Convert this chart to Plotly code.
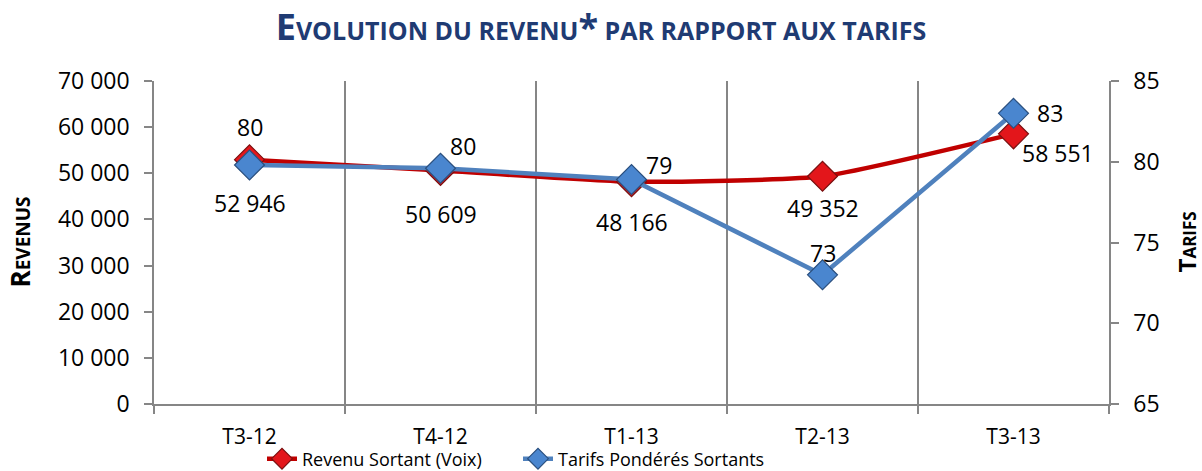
import plotly.graph_objects as go

categories = ["T3-12", "T4-12", "T1-13", "T2-13", "T3-13"]
revenu = [52946, 50609, 48166, 49352, 58551]
tarifs = [79.8, 79.6, 78.9, 73.0, 83.0]
revenu_name = "Revenu Sortant (Voix)"
tarifs_name = "Tarifs Pondérés Sortants"

# label offsets (style only, pixels)
rev_shift = [(0, -43), (0, -44), (0, -40), (0, -32), (44, -19)]
tar_shift = [(0, 38), (22, 22), (27, 15), (0, 22), (36, 0)]

RED = "#C00000"
BLUE = "#4F81BD"
GRID = "#868686"
FONT = "Open Sans"

fig = go.Figure()
fig.add_trace(go.Scatter(
    x=categories, y=revenu, name=revenu_name, mode="lines+markers",
    line=dict(color=RED, width=4.5, shape="spline", smoothing=0.5),
    marker=dict(symbol="diamond", size=23, color="#E3161B", line=dict(color="#7A1010", width=1.2)),
    yaxis="y", legend="legend",
))
fig.add_trace(go.Scatter(
    x=categories, y=tarifs, name=tarifs_name, mode="lines+markers",
    line=dict(color=BLUE, width=4.5),
    marker=dict(symbol="diamond", size=23, color="#4A86CF", line=dict(color="#2A4F7E", width=1.2)),
    yaxis="y2", legend="legend2",
))

annotations = []
for c, v, (dx, dy) in zip(categories, revenu, rev_shift):
    annotations.append(dict(x=c, y=v, yref="y", xref="x", text=f"{v:,}".replace(",", " "),
                            showarrow=False, xshift=dx, yshift=dy,
                            font=dict(family=FONT, size=23, color="#000")))
for c, v, (dx, dy) in zip(categories, tarifs, tar_shift):
    annotations.append(dict(x=c, y=v, yref="y2", xref="x", text=f"{v:.0f}",
                            showarrow=False, xshift=dx, yshift=dy,
                            font=dict(family=FONT, size=23, color="#000")))

annotations.append(dict(xref="paper", yref="paper", x=0, y=0.5, xshift=-135, textangle=-90,
                        xanchor="center", yanchor="middle",
                        text="<b><span style='font-size:26px'>R</span>EVENUS</b>", showarrow=False,
                        font=dict(family=FONT, size=19, color="#000")))
annotations.append(dict(xref="paper", yref="paper", x=1, y=0.5, xshift=77, textangle=-90,
                        xanchor="center", yanchor="middle",
                        text="<b><span style='font-size:24px'>T</span>ARIFS</b>", showarrow=False,
                        font=dict(family=FONT, size=17, color="#000")))

legend_common = dict(orientation="h", xanchor="left", y=1 - 459 / 471, yanchor="middle",
                     yref="container", font=dict(family=FONT, size=18), itemwidth=30,
                     bgcolor="rgba(0,0,0,0)")

fig.update_layout(
    width=1202, height=471,
    margin=dict(l=154, r=93, t=81, b=67, autoexpand=False),
    paper_bgcolor="white", plot_bgcolor="white",
    separators=". ",
    font=dict(family=FONT, size=21, color="#000"),
    title=dict(
        text="<b><span style='font-size:36px'>E</span>VOLUTION DU REVENU<span style='font-size:36px'>*</span> PAR RAPPORT AUX TARIFS</b>",
        x=0.5, xanchor="center", xref="container", y=1 - 31 / 471, yanchor="middle", yref="container",
        font=dict(family=FONT, size=25, color="#1F3B73"),
    ),
    xaxis=dict(
        type="category", tickson="boundaries", showgrid=True, gridcolor=GRID, gridwidth=1.5,
        showline=True, linecolor=GRID, linewidth=1.5, ticks="outside", ticklen=8, tickcolor=GRID,
        tickwidth=1.5, ticklabelstandoff=13, tickfont=dict(family=FONT, size=21),
        range=[-0.5, 4.5], zeroline=False, automargin=False,
    ),
    yaxis=dict(
        range=[0, 70000], dtick=10000, tickformat=",d", showgrid=False,
        showline=True, linecolor=GRID, linewidth=1.5, ticks="outside", ticklen=8, tickcolor=GRID,
        tickwidth=1.5, ticklabelstandoff=10, tickfont=dict(family=FONT, size=23), zeroline=False,
        automargin=False,
    ),
    yaxis2=dict(
        range=[65, 85], dtick=5, overlaying="y", side="right", showgrid=False,
        showline=True, linecolor=GRID, linewidth=1.5, ticks="outside", ticklen=8, tickcolor=GRID,
        tickwidth=1.5, ticklabelstandoff=10, tickfont=dict(family=FONT, size=23), zeroline=False,
        automargin=False,
    ),
    legend=dict(x=(262 - 154) / 955, **legend_common),
    legend2=dict(x=(518 - 154) / 955, **legend_common),
    annotations=annotations,
    showlegend=True,
)

fig.write_html("out.html", config={"displayModeBar": False},
               post_script="document.body.style.margin='0';document.body.style.padding='0';")
